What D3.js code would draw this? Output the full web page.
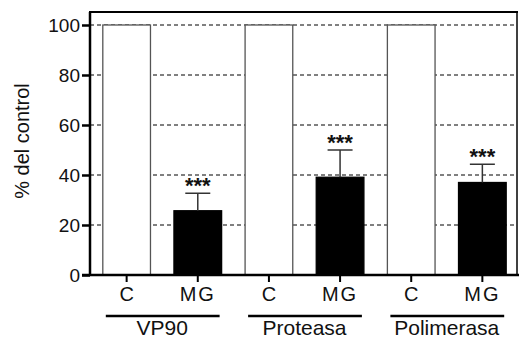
<!DOCTYPE html>
<html><head><meta charset="utf-8">
<script src="https://cdn.jsdelivr.net/npm/d3@7"></script>
<style>body{margin:0;background:#fff}svg{display:block}text{font-family:"Liberation Sans",Arial,sans-serif;fill:#111}</style>
</head><body><svg id="c" width="519" height="341"></svg>
<script>
const categories = ["C","MG","C","MG","C","MG"];
const groups = ["VP90","Proteasa","Polimerasa"];
const values = [100, 25.7, 100, 39.1, 100, 37.0];
const errors = [0, 7.0, 0, 10.9, 0, 7.3];
const signif = ["", "***", "", "***", "", "***"];
const yTicks = [0,20,40,60,80,100];

const svg = d3.select("#c");
const y = d3.scaleLinear().domain([0,100]).range([275,25]);
const x = d3.scaleBand().domain(d3.range(categories.length)).range([90,519]).paddingInner(0.33).paddingOuter(0.18);

// gridlines
svg.append("g").selectAll("line").data(yTicks.filter(d=>d>0)).join("line")
  .attr("x1",90).attr("x2",517).attr("y1",d=>y(d)).attr("y2",d=>y(d))
  .attr("stroke","#000").attr("stroke-width",1).attr("stroke-dasharray","4,3");

// bars
svg.append("g").selectAll("rect").data(values).join("rect")
  .attr("x",(d,i)=>x(i)).attr("width",x.bandwidth())
  .attr("y",d=>y(d)).attr("height",d=>y(0)-y(d))
  .attr("fill",(d,i)=>categories[i]==="C"?"#fff":"#000")
  .attr("stroke",(d,i)=>categories[i]==="C"?"#555":"#000").attr("stroke-width",1.3);

// error bars
const eg = svg.append("g");
values.forEach((v,i)=>{
  if(!errors[i]) return;
  const cx = x(i)+x.bandwidth()/2;
  eg.append("line").attr("x1",cx).attr("x2",cx).attr("y1",y(v)).attr("y2",y(v+errors[i])).attr("stroke","#333").attr("stroke-width",1.5);
  eg.append("line").attr("x1",cx-12.5).attr("x2",cx+12.5).attr("y1",y(v+errors[i])).attr("y2",y(v+errors[i])).attr("stroke","#333").attr("stroke-width",1.5);
  eg.append("text").attr("x",cx).attr("y",y(v+errors[i])).attr("text-anchor","middle")
    .style("font-size","22px").style("font-weight","bold").text(signif[i]);
});

// frame top and right
svg.append("line").attr("x1",89).attr("x2",518).attr("y1",12).attr("y2",12).attr("stroke","#000").attr("stroke-width",2);
svg.append("line").attr("x1",517).attr("x2",517).attr("y1",12).attr("y2",275).attr("stroke","#000").attr("stroke-width",1.5);

// y axis
const ya = svg.append("g").attr("transform","translate(90,0)")
  .call(d3.axisLeft(y).tickValues(yTicks).tickSize(8).tickPadding(2));
ya.select(".domain").attr("d","M0,275V12").attr("stroke","#000").attr("stroke-width",2.5);
ya.selectAll(".tick line").attr("stroke","#000").attr("stroke-width",2.5);
ya.selectAll("text").style("font-size","19px").attr("fill","#111");

// x axis
const xa = svg.append("g").attr("transform","translate(0,275)")
  .call(d3.axisBottom(x).tickSize(7).tickPadding(5).tickFormat(i=>categories[i]));
xa.select(".domain").attr("d","M82,0H519").attr("stroke","#000").attr("stroke-width",2.5);
xa.selectAll(".tick line").attr("stroke","#000").attr("stroke-width",2);
xa.selectAll("text").style("font-size","20px").attr("fill","#111")
  .style("letter-spacing",(i)=>categories[i]==="MG"?"2px":"0px");

// group lines and labels
groups.forEach((g,k)=>{
  const a = x(2*k), b = x(2*k+1)+x.bandwidth();
  svg.append("line").attr("x1",a+3).attr("x2",b-2).attr("y1",316).attr("y2",316).attr("stroke","#000").attr("stroke-width",2.5);
  svg.append("text").attr("x",(a+b)/2).attr("y",335).attr("text-anchor","middle").style("font-size","21px").text(g);
});

// y title
svg.append("text").attr("transform","translate(29,141) rotate(-90)").attr("text-anchor","middle")
  .style("font-size","20px").text("% del control");
</script></body></html>
